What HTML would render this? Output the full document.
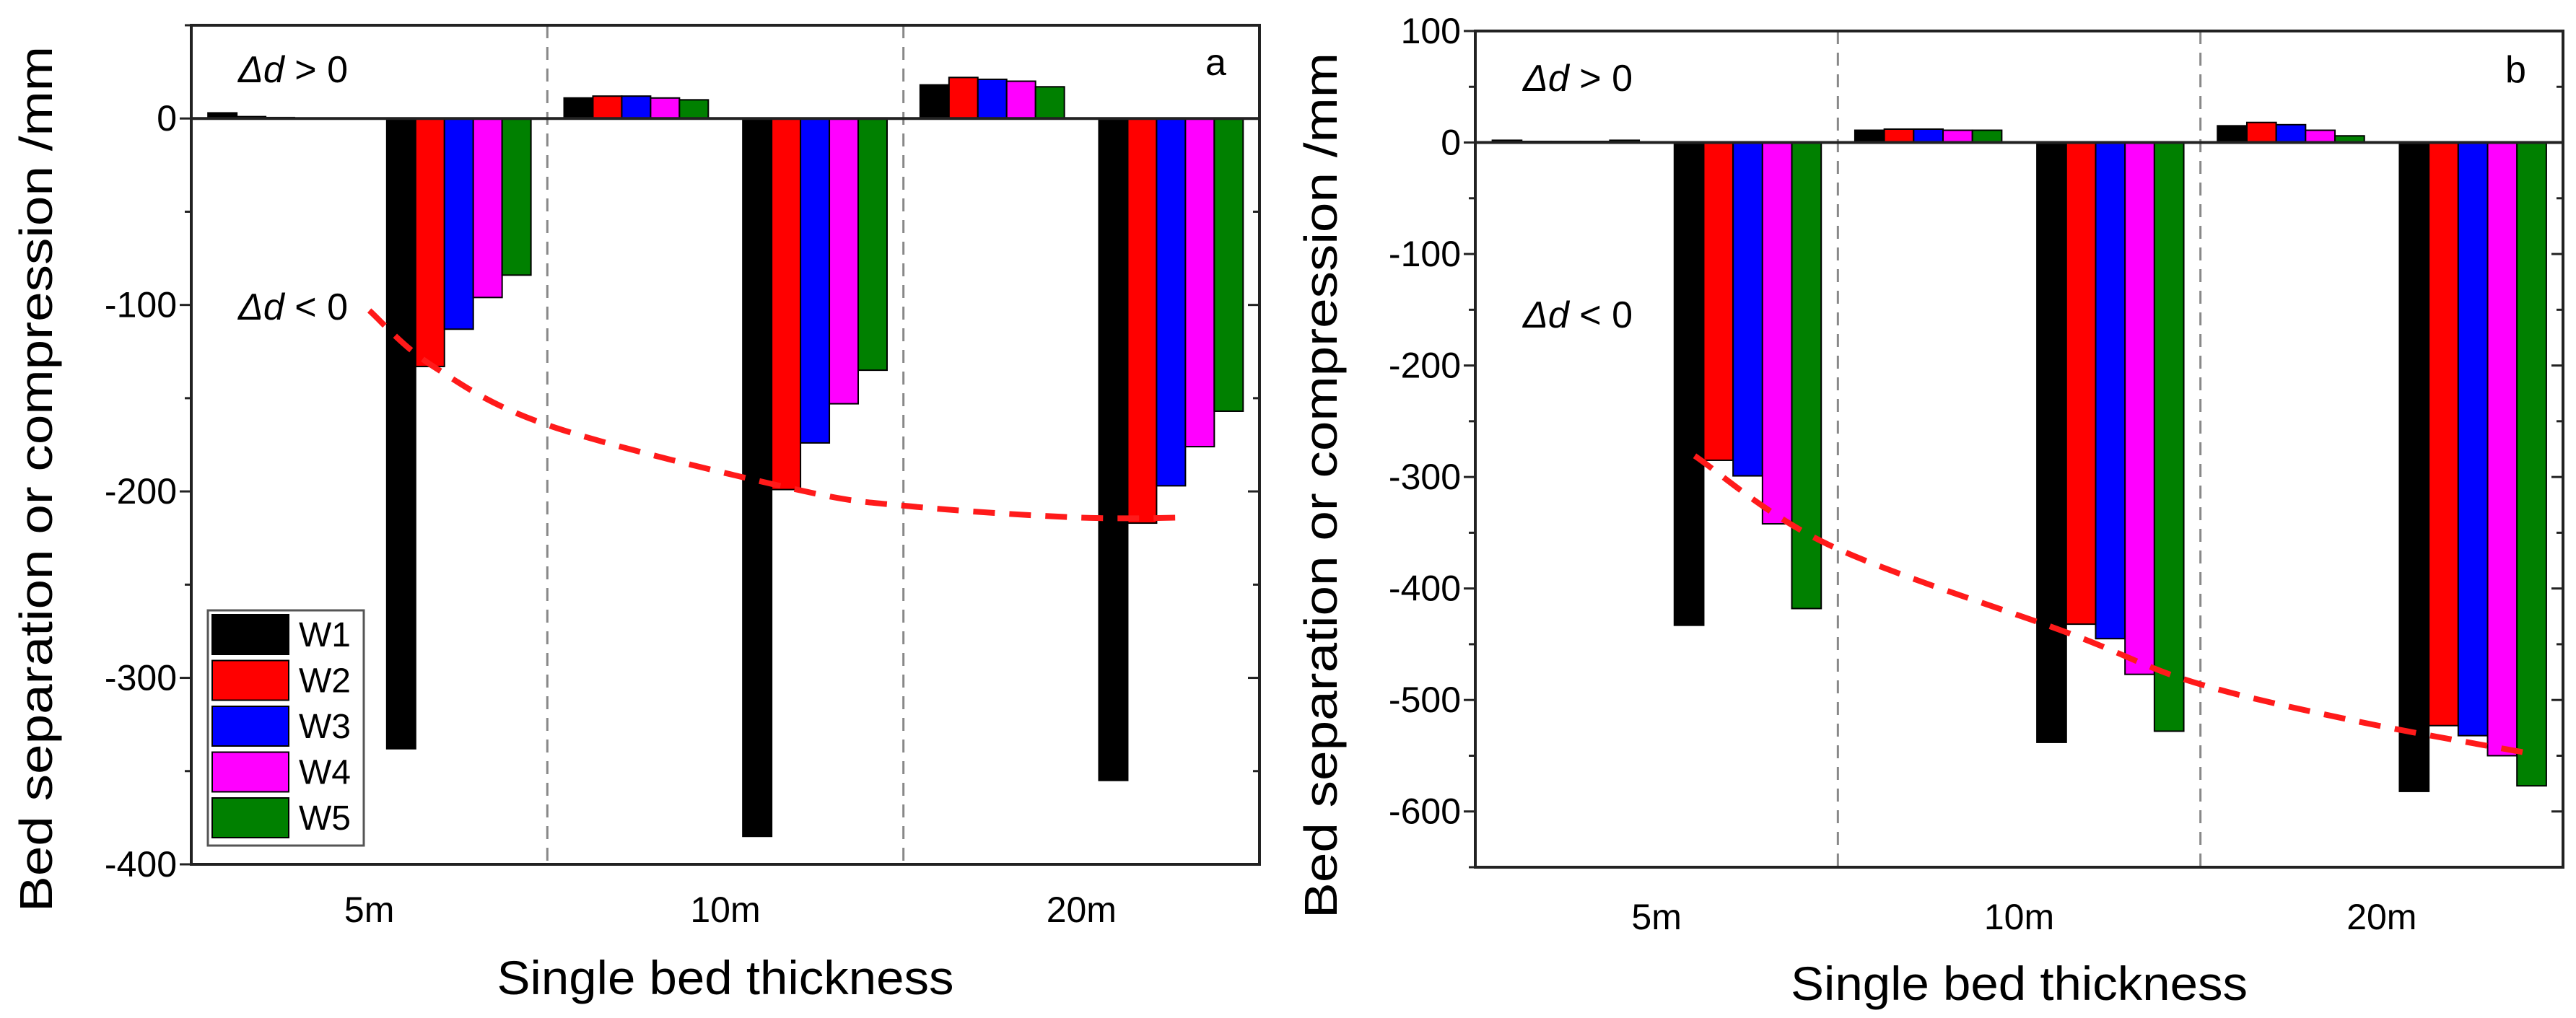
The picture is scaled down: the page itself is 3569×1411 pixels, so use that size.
<!DOCTYPE html>
<html><head><meta charset="utf-8"><style>
html,body{margin:0;padding:0;background:#fff;}
svg{display:block;font-family:"Liberation Sans",Arial,sans-serif;}
</style></head><body>
<svg id="fig" width="3569" height="1411" viewBox="0 0 3569 1411" xmlns="http://www.w3.org/2000/svg"></svg>
<script>
const categories = ["5m","10m","20m"];
const seriesNames = ["W1","W2","W3","W4","W5"];
const colors = ["#000000","#ff0000","#0000ff","#ff00ff","#008000"];
// Panel a
const aPos = [[3,11,18],[1,12,22],[0.5,12,21],[0,11,20],[0,10,17]];
const aNeg = [[-338,-385,-355],[-133,-199,-217],[-113,-174,-197],[-96,-153,-176],[-84,-135,-157]];
const aCurveX = [0,0.18,0.51,1.2,1.52,1.99,2.30];
const aCurveY = [-103,-133,-165,-199,-208,-214,-214];
const aTicks = [0,-100,-200,-300,-400];
// Panel b
const bPos = [[2,11,15],[1,12,18],[1,12,16],[1,11,11],[2,11,6]];
const bNeg = [[-433,-538,-582],[-285,-432,-523],[-299,-445,-532],[-342,-477,-550],[-418,-528,-577]];
const bCurveX = [0.105,0.476,1.136,1.48,1.93,2.41];
const bCurveY = [-281,-361,-440,-484,-519,-548];
const bTicks = [100,0,-100,-200,-300,-400,-500,-600];

const svg = document.getElementById('fig');
const NS = "http://www.w3.org/2000/svg";
function mk(tag, attrs, parent){
  const e = document.createElementNS(NS, tag);
  for (const k in attrs) e.setAttribute(k, attrs[k]);
  (parent||svg).appendChild(e);
  return e;
}

function panel(cfg){
  const g = mk('g', {});
  
  
  const L=cfg.left,R=cfg.right,T=cfg.top,B=cfg.bottom;
  const xs = v => L + (v + 0.5) / 3 * (R - L);
  const ys = v => T + (cfg.ymax - v) / (cfg.ymax - cfg.ymin) * (B - T);
  [0.5,1.5].forEach((d,i)=>{
    const l = mk('line',{x1:xs(d),x2:xs(d),y1:T,y2:B,stroke:'#888','stroke-width':3,'stroke-dasharray':'18,12'},g);
    
    
  });
  const bw = 0.081, pOff = 0.047, nOff = 0.549;
  for (let s=0;s<5;s++){
    for (let c=0;c<3;c++){
      const x0 = xs(c - 0.5 + pOff + s*bw);
      const pv = cfg.pos[s][c];
      const r1 = mk('rect',{x:x0,y:ys(pv),width:xs(bw)-xs(0),height:Math.max(0.5,ys(0)-ys(pv)),fill:colors[s],stroke:'#000','stroke-width':2},g);
      
      
      const x1 = xs(c - 0.5 + nOff + s*bw);
      const nv = cfg.neg[s][c];
      const r2 = mk('rect',{x:x1,y:ys(0),width:xs(bw)-xs(0),height:ys(nv)-ys(0),fill:colors[s],stroke:'#000','stroke-width':2},g);
      
      
    }
  }
  const z = mk('line',{x1:L,x2:R,y1:ys(0),y2:ys(0),stroke:'#222','stroke-width':4},g);
  
  
  const pts = cfg.cx.map((v,i)=>[xs(v),ys(cfg.cy[i])]);
  let d = 'M'+pts[0][0]+','+pts[0][1];
  for (let i=0;i<pts.length-1;i++){
    const p0=pts[Math.max(0,i-1)],p1=pts[i],p2=pts[i+1],p3=pts[Math.min(pts.length-1,i+2)];
    const c1=[p1[0]+(p2[0]-p0[0])/6,p1[1]+(p2[1]-p0[1])/6];
    const c2=[p2[0]-(p3[0]-p1[0])/6,p2[1]-(p3[1]-p1[1])/6];
    d+=' C'+c1+' '+c2+' '+p2;
  }
  const cur = mk('path',{d:d,fill:'none',stroke:'#ff1a1a','stroke-width':8,'stroke-dasharray':'30,20'},g);
  
  
  const fr = mk('rect',{x:L,y:T,width:R-L,height:B-T,fill:'none',stroke:'#222','stroke-width':4},g);
  
  
  for (let v=cfg.ymin; v<=cfg.ymax+0.1; v+=50){
    const major = cfg.ticks.indexOf(v)>=0;
    const len = major?16:9;
    mk('line',{x1:L,x2:L-len,y1:ys(v),y2:ys(v),stroke:'#222','stroke-width':3},g);
    mk('line',{x1:R,x2:R-len,y1:ys(v),y2:ys(v),stroke:'#222','stroke-width':3},g);
  }
  cfg.ticks.forEach(v=>{
    const t = mk('text',{x:L-20,y:ys(v)+17,'text-anchor':'end','font-size':50,fill:'#000'},g);
    t.textContent = v;
    
    
  });
  categories.forEach((c,i)=>{
    const t = mk('text',{x:xs(i),y:cfg.catY,'text-anchor':'middle','font-size':50,fill:'#000'},g);
    t.textContent = c;
    
    
  });
  const xt = mk('text',{x:(L+R)/2,y:cfg.titleY,'text-anchor':'middle','font-size':66,fill:'#000',textLength:633,lengthAdjust:'spacingAndGlyphs'},g);
  xt.textContent = 'Single bed thickness';
  
  
  const yt = mk('text',{x:0,y:0,'text-anchor':'middle','font-size':64,fill:'#000',textLength:1200,lengthAdjust:'spacingAndGlyphs',transform:'translate('+cfg.ytX+','+cfg.ytY+') rotate(-90)'},g);
  yt.textContent = 'Bed separation or compression   /mm';
  
  
  [[cfg.dpY,'> 0'],[cfg.dnY,'< 0']].forEach(([yy,s])=>{
    const t = mk('text',{x:cfg.dX,y:yy,'font-size':52,fill:'#000'},g);
    t.innerHTML = '<tspan font-style="italic">Δd</tspan> '+s;
    
    
  });
  const pl = mk('text',{x:cfg.lblX,y:cfg.lblY,'font-size':52,fill:'#000'},g);
  pl.textContent = cfg.id;
  
  
  return {xs,ys,g};
}

panel({id:'a',left:265,right:1745,top:35,bottom:1198,ymax:50,ymin:-400,ticks:aTicks,
  pos:aPos,neg:aNeg,cx:aCurveX,cy:aCurveY,catY:1278,titleY:1378,ytX:72,ytY:664,
  dX:330,dpY:114,dnY:443,lblX:1670,lblY:104});
panel({id:'b',left:2044,right:3551,top:43,bottom:1202,ymax:100,ymin:-650,ticks:bTicks,
  pos:bPos,neg:bNeg,cx:bCurveX,cy:bCurveY,catY:1288,titleY:1386,ytX:1852,ytY:673,
  dX:2110,dpY:126,dnY:454,lblX:3471,lblY:114});

const lg = mk('g',{});


mk('rect',{x:288,y:846,width:216,height:326,fill:'#fff',stroke:'#555','stroke-width':3},lg);
seriesNames.forEach((n,i)=>{
  const e = mk('g',{},lg);
  
  
  mk('rect',{x:294,y:852+i*63.5,width:106,height:55,fill:colors[i],stroke:'#000','stroke-width':2},e);
  const t = mk('text',{x:414,y:896+i*63.5,'font-size':48,fill:'#000'},e);
  t.textContent = n;
});
</script>
</body></html>
